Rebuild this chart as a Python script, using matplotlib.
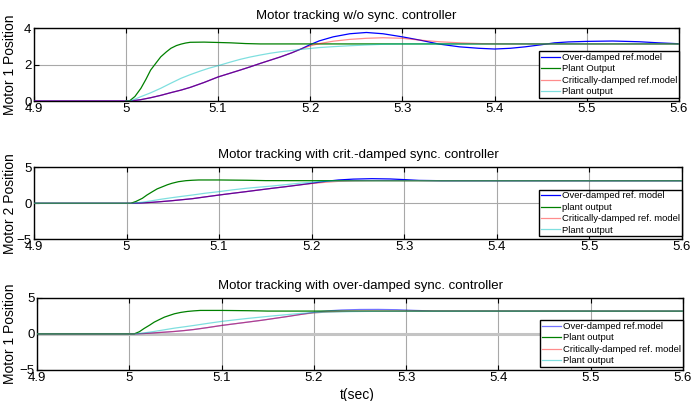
import matplotlib
matplotlib.use("Agg")
import matplotlib.pyplot as plt

plt.rcParams["font.family"] = ["Liberation Sans", "DejaVu Sans"]

# ---- panel 1: w/o sync. controller ----
t_over1 = [4.9, 5.005, 5.016, 5.027, 5.038, 5.049, 5.06, 5.07, 5.085, 5.1, 5.112, 5.124, 5.135,
           5.146, 5.157, 5.168, 5.18, 5.19, 5.2, 5.21, 5.225, 5.243, 5.261, 5.279, 5.3, 5.319,
           5.34, 5.362, 5.383, 5.4, 5.417, 5.433, 5.45, 5.465, 5.48, 5.5, 5.528, 5.557, 5.578, 5.6]
over1 = [0, 0, 0.07, 0.18, 0.31, 0.46, 0.60, 0.75, 1.02, 1.32, 1.51, 1.70, 1.88,
         2.07, 2.25, 2.43, 2.65, 2.86, 3.10, 3.31, 3.53, 3.70, 3.77, 3.70, 3.53, 3.35,
         3.13, 2.98, 2.90, 2.86, 2.90, 2.98, 3.09, 3.20, 3.25, 3.28, 3.30, 3.26, 3.20, 3.15]
t_crit1 = [4.9, 5.005, 5.016, 5.027, 5.038, 5.049, 5.06, 5.07, 5.085, 5.1, 5.112, 5.124, 5.135,
           5.146, 5.157, 5.168, 5.18, 5.19, 5.2, 5.21, 5.225, 5.243, 5.261, 5.279, 5.3, 5.319,
           5.34, 5.362, 5.39, 5.42, 5.6]
crit1 = [0, 0, 0.07, 0.18, 0.31, 0.46, 0.60, 0.75, 1.02, 1.32, 1.51, 1.70, 1.88,
         2.07, 2.25, 2.43, 2.65, 2.86, 3.03, 3.16, 3.29, 3.39, 3.45, 3.48, 3.45, 3.35,
         3.26, 3.20, 3.15, 3.14, 3.14]
t_fast1 = [5.0, 5.004, 5.01, 5.0165, 5.022, 5.027, 5.033, 5.038, 5.044, 5.049, 5.055, 5.06,
           5.065, 5.07, 5.085, 5.1, 5.114, 5.13, 5.146, 5.17, 5.6]
fast1 = [0, 0, 0.25, 0.70, 1.20, 1.70, 2.10, 2.43, 2.70, 2.90, 3.05, 3.13,
         3.19, 3.23, 3.24, 3.22, 3.20, 3.16, 3.14, 3.14, 3.14]
t_slow1 = [5.0, 5.005, 5.0165, 5.027, 5.038, 5.049, 5.06, 5.07, 5.081, 5.09, 5.1, 5.112, 5.124,
           5.135, 5.146, 5.157, 5.168, 5.18, 5.19, 5.2, 5.21, 5.225, 5.243, 5.26, 5.279, 5.3, 5.6]
slow1 = [0, 0, 0.24, 0.45, 0.70, 0.98, 1.25, 1.45, 1.65, 1.80, 1.94, 2.12, 2.29,
         2.42, 2.53, 2.63, 2.71, 2.78, 2.84, 2.89, 2.94, 2.99, 3.04, 3.08, 3.12, 3.14, 3.14]

# ---- panel 2: crit.-damped sync. controller ----
t_over2 = [4.9, 5.005, 5.016, 5.028, 5.038, 5.049, 5.06, 5.071, 5.085, 5.1, 5.114, 5.129, 5.143,
           5.157, 5.172, 5.186, 5.2, 5.215, 5.229, 5.245, 5.265, 5.285, 5.3, 5.316, 5.34, 5.6]
over2 = [0, 0, 0.05, 0.14, 0.24, 0.36, 0.50, 0.64, 0.89, 1.15, 1.38, 1.62, 1.85,
         2.08, 2.31, 2.54, 2.78, 3.05, 3.24, 3.36, 3.42, 3.38, 3.29, 3.18, 3.14, 3.14]
t_crit2 = [4.9, 5.005, 5.016, 5.028, 5.038, 5.049, 5.06, 5.071, 5.085, 5.1, 5.114, 5.129, 5.143,
           5.157, 5.172, 5.186, 5.2, 5.215, 5.229, 5.245, 5.27, 5.3, 5.6]
crit2 = [0, 0, 0.05, 0.14, 0.24, 0.36, 0.50, 0.64, 0.89, 1.15, 1.38, 1.62, 1.85,
         2.08, 2.31, 2.54, 2.75, 2.92, 3.05, 3.12, 3.15, 3.14, 3.14]
t_fast2 = [4.9, 5.0045, 5.01, 5.017, 5.022, 5.028, 5.033, 5.039, 5.044, 5.049, 5.056, 5.064,
           5.071, 5.078, 5.1, 5.13, 5.15, 5.2, 5.6]
fast2 = [0, 0, 0.25, 0.69, 1.15, 1.62, 2.00, 2.31, 2.57, 2.78, 3.00, 3.14,
         3.20, 3.24, 3.24, 3.20, 3.15, 3.14, 3.14]
t_slow2 = [4.9, 5.005, 5.017, 5.028, 5.038, 5.049, 5.06, 5.071, 5.085, 5.1, 5.114, 5.129, 5.143,
           5.157, 5.172, 5.186, 5.2, 5.208, 5.22, 5.24, 5.26, 5.6]
slow2 = [0, 0, 0.15, 0.37, 0.58, 0.78, 0.97, 1.15, 1.40, 1.62, 1.86, 2.08, 2.24,
         2.40, 2.59, 2.78, 2.92, 3.00, 3.07, 3.12, 3.14, 3.14]

# ---- panel 3: over-damped sync. controller ----
t_over3 = [4.9, 5.0054, 5.016, 5.027, 5.038, 5.049, 5.06, 5.07, 5.085, 5.1, 5.114, 5.128, 5.143,
           5.157, 5.172, 5.186, 5.2, 5.215, 5.23, 5.25, 5.27, 5.29, 5.31, 5.33, 5.6]
over3 = [0, 0, 0.05, 0.14, 0.23, 0.33, 0.46, 0.60, 0.87, 1.16, 1.39, 1.62, 1.87,
         2.13, 2.41, 2.69, 2.97, 3.18, 3.30, 3.37, 3.38, 3.34, 3.24, 3.16, 3.14]
t_crit3 = [4.9, 5.0054, 5.016, 5.027, 5.038, 5.049, 5.06, 5.07, 5.085, 5.1, 5.114, 5.128, 5.143,
           5.157, 5.172, 5.186, 5.2, 5.215, 5.23, 5.26, 5.6]
crit3 = [0, 0, 0.05, 0.14, 0.23, 0.33, 0.46, 0.60, 0.87, 1.16, 1.39, 1.62, 1.87,
         2.13, 2.41, 2.69, 2.90, 3.03, 3.10, 3.14, 3.14]
t_fast3 = [4.9, 5.0054, 5.011, 5.016, 5.022, 5.027, 5.033, 5.038, 5.044, 5.049, 5.056, 5.063,
           5.07, 5.077, 5.1, 5.13, 5.15, 5.6]
fast3 = [0, 0, 0.30, 0.74, 1.20, 1.62, 2.00, 2.31, 2.57, 2.78, 2.97, 3.10,
         3.18, 3.24, 3.24, 3.20, 3.15, 3.14]
t_slow3 = [4.9, 5.0054, 5.016, 5.027, 5.038, 5.049, 5.06, 5.07, 5.085, 5.1, 5.114, 5.128, 5.143,
           5.157, 5.172, 5.186, 5.2, 5.215, 5.24, 5.27, 5.6]
slow3 = [0, 0, 0.13, 0.33, 0.56, 0.79, 0.98, 1.16, 1.45, 1.72, 1.93, 2.13, 2.32,
         2.50, 2.67, 2.83, 2.93, 3.00, 3.08, 3.12, 3.14]

titles = ["Motor tracking w/o sync. controller",
          "Motor tracking with crit.-damped sync. controller",
          "Motor tracking with over-damped sync. controller"]
ylabels = ["Motor 1 Position", "Motor 2 Position", "Motor 1 Position"]
legend_labels = [
    ["Over-damped ref.model", "Plant Output", "Critically-damped ref.model", "Plant output"],
    ["Over-damped ref. model", "plant output", "Critically-damped ref. model", "Plant output"],
    ["Over-damped ref.model", "Plant output", "Critically-damped ref. model", "Plant output"],
]
x_ticks = [4.9, 5, 5.1, 5.2, 5.3, 5.4, 5.5, 5.6]
x_ticklabels = ["4.9", "5", "5.1", "5.2", "5.3", "5.4", "5.5", "5.6"]
y_ticks = [[0, 2, 4], [-5, 0, 5], [-5, 0, 5]]

series = [
    (t_over1, over1, t_fast1, fast1, t_crit1, crit1, t_slow1, slow1),
    (t_over2, over2, t_fast2, fast2, t_crit2, crit2, t_slow2, slow2),
    (t_over3, over3, t_fast3, fast3, t_crit3, crit3, t_slow3, slow3),
]

W, H = 691, 401
# axes boxes in pixels: left, top, right, bottom
boxes = [(33.5, 28.3, 679, 101), (34, 167.3, 682, 239.3), (37, 297.7, 683, 370)]
blue_alpha = [1.0, 1.0, 0.55]

fig = plt.figure(figsize=(W / 100, H / 100), dpi=100)

for i in range(3):
    l, t, r, b = boxes[i]
    ax = fig.add_axes([l / W, 1 - b / H, (r - l) / W, (b - t) / H])
    to, yo, tf, yf, tc, yc, ts, ys = series[i]
    labs = legend_labels[i]

    if i == 2:
        ax.axhline(0, color="#c4c4c4", lw=2.2, zorder=1)

    ax.plot(to, yo, color="#0000ff", lw=0.9, alpha=blue_alpha[i], label=labs[0], zorder=3)
    ax.plot(tf, yf, color="#008000", lw=0.9, label=labs[1], zorder=3)
    ax.plot(tc, yc, color="#ff0000", lw=0.9, alpha=0.45, label=labs[2], zorder=3)
    ax.plot(ts, ys, color="#00c0c0", lw=0.9, alpha=0.5, label=labs[3], zorder=3)

    ax.set_xlim(4.9, 5.6)
    ax.set_ylim(y_ticks[i][0], y_ticks[i][-1])
    ax.set_xticks(x_ticks)
    ax.set_xticklabels(x_ticklabels)
    ax.set_yticks(y_ticks[i])
    ax.grid(True, color="#a8a8a8", lw=0.8, zorder=0)
    ax.set_axisbelow(True)
    ax.tick_params(direction="in", length=3.5, width=0.8, top=True, right=True,
                   labelsize=9.5, pad=1.5, colors="black")
    for sp in ax.spines.values():
        sp.set_linewidth(1.0)

    ax.set_title(titles[i], fontsize=9.5, pad=6.5)
    fig.text(10 / W, 1 - ((t + b) / 2) / H, ylabels[i], rotation=90,
             ha="center", va="center", fontsize=10)

    leg = ax.legend(loc="lower right", bbox_to_anchor=(1.0, 0.04), borderaxespad=0,
                    fontsize=6.8, frameon=True, fancybox=False, edgecolor="black",
                    borderpad=0.2, labelspacing=0.25, handlelength=2.0, handletextpad=0.2)
    leg.get_frame().set_linewidth(1.0)
    leg.get_frame().set_alpha(1.0)
    leg.set_zorder(5)

fig.text(357 / W, 1 - 388 / H, "t(sec)", ha="center", va="top", fontsize=10)

fig.savefig("out.png", dpi=100)
